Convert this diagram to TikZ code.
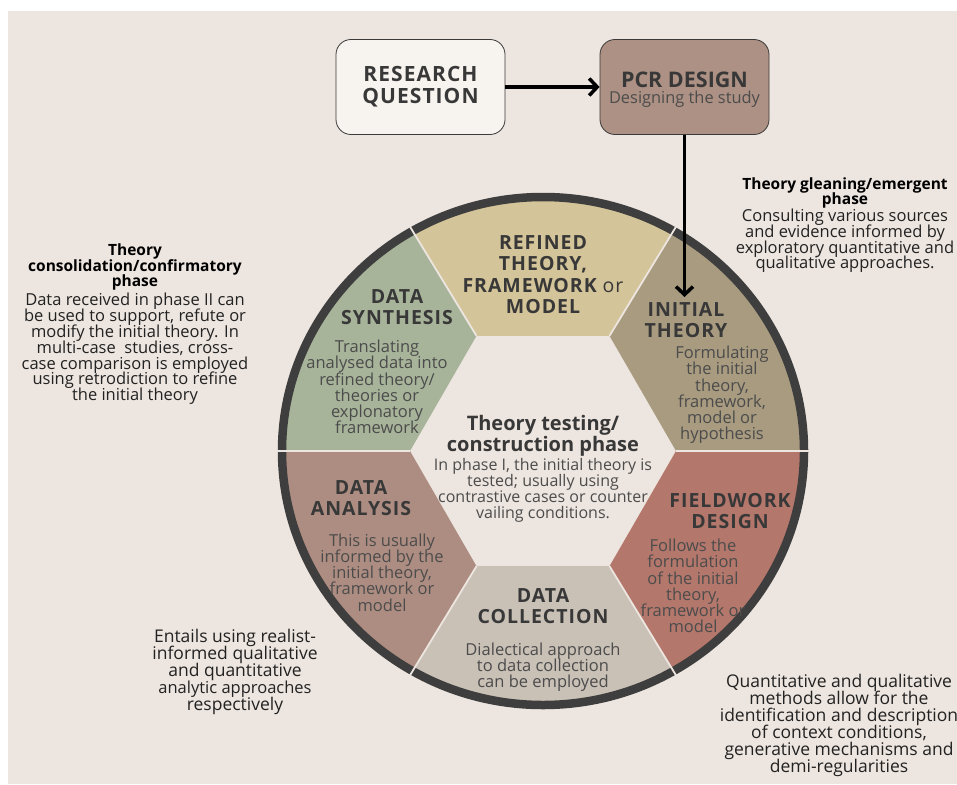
\documentclass[tikz,border=0pt]{standalone}
\usepackage{fontspec}
\setmainfont{Open Sans}
\newfontfamily\trackfont[LetterSpace=5]{Open Sans}
\usetikzlibrary{arrows.meta}
% keep multi-line labels on their set baseline distance
\lineskiplimit=-50pt
\lineskip=0pt

\definecolor{pagebg}{HTML}{EDE5DF}
\definecolor{rqfill}{HTML}{F7F3EF}
\definecolor{pcrfill}{HTML}{AD9184}
\definecolor{boxline}{HTML}{3A3A3A}
\definecolor{refcol}{HTML}{D4C499}
\definecolor{initcol}{HTML}{A89B80}
\definecolor{fieldcol}{HTML}{B4776B}
\definecolor{collcol}{HTML}{C9C0B6}
\definecolor{analcol}{HTML}{AD8D81}
\definecolor{synthcol}{HTML}{A7B49A}
\definecolor{ringcol}{HTML}{3E3E3E}
\definecolor{divcol}{HTML}{EDE5DF}
\definecolor{headcol}{HTML}{383838}
\definecolor{bodycol}{HTML}{4C4C4C}
\definecolor{outcol}{HTML}{222222}

\tikzset{
  rqbox/.style={draw=boxline, line width=0.8pt, fill=rqfill, rounded corners=15pt,
    minimum width=169pt, minimum height=95pt, align=center, text=headcol,
    font=\trackfont\bfseries\fontsize{21}{22}\selectfont},
  pcrbox/.style={draw=boxline, line width=0.8pt, fill=pcrfill, rounded corners=15pt,
    minimum width=169pt, minimum height=95pt},
  pcrtitle/.style={inner sep=0pt, text=headcol, font=\bfseries\fontsize{21.5}{22}\selectfont},
  pcrsub/.style={inner sep=0pt, text=bodycol, font=\fontsize{16.4}{17}\selectfont},
  flow/.style={line width=3.5pt, -{Straight Barb[length=8pt,width=17pt]}},
  seghead/.style={inner sep=0pt, align=center, text=headcol,
    font=\trackfont\bfseries\fontsize{19.5}{21.5}\selectfont},
  segbody/.style={inner sep=0pt, align=center, text=bodycol,
    font=\fontsize{16.5}{16.2}\selectfont},
  centhead/.style={inner sep=0pt, align=center, text=headcol,
    font=\bfseries\fontsize{20}{21}\selectfont},
  centbody/.style={inner sep=0pt, align=center, text=bodycol,
    font=\fontsize{16}{16}\selectfont},
  outhead/.style={inner sep=0pt, align=center, text=black,
    font=\bfseries\fontsize{15.5}{15.5}\selectfont},
  outbody/.style={inner sep=0pt, align=center, text=outcol,
    font=\fontsize{16.5}{15.8}\selectfont},
  outbig/.style={inner sep=0pt, align=center, text=outcol,
    font=\fontsize{17.5}{17}\selectfont},
  divider/.style={line width=1.8pt, divcol},
}

\begin{document}
\begin{tikzpicture}[x=1pt,y=-1pt]
\useasboundingbox (0,0) rectangle (957,784);
\fill[white] (0,0) rectangle (957,784);
\fill[pagebg] (8,11) rectangle (957,784);

% wheel: six segments between the inner hexagon and the outer ring
\begin{scope}[shift={(543,451)}]
  \foreach \a/\b/\col in {240/300/refcol, 300/360/initcol, 0/60/fieldcol,
                          60/120/collcol, 120/180/analcol, 180/240/synthcol}{
    \fill[\col] (\a:133) -- plot[domain=\a:\b, samples=40] ({261*cos(\x)},{254*sin(\x)})
      -- (\b:133) -- cycle;
  }
  \draw[line width=8.5pt, ringcol] (0,0) ellipse[x radius=261, y radius=254];
  \foreach \a in {0,60,...,300}
    \draw[divider] (\a:133) -- ({266*cos(\a)},{259*sin(\a)});
\end{scope}

% top row of boxes
\node[rqbox] (rq) at (420.5,87) {RESEARCH\\QUESTION};
\node[pcrbox] (pcr) at (684.5,87) {};
\node[pcrtitle] (pcrt) at (684.5,80) {PCR DESIGN};
\node[pcrsub] (pcrs) at (684.5,99.5) {Designing the study};
\coordinate (itin) at (684.5,297);
\draw[flow] (rq.east) -- (pcr.west);
\draw[flow] (pcr.south) -- (itin);

% segment labels
\node[seghead] (refh) at (543,274.5) {REFINED\\THEORY,\\FRAMEWORK {\mdseries or}\\MODEL};
\node[seghead] (synh) at (397,307) {DATA\\SYNTHESIS};
\node[segbody] (synb) at (377,387) {Translating\\analysed data into\\refined theory/\\theories or\\explonatory\\framework};
\node[seghead] (inith) at (686,320) {INITIAL\\THEORY};
\node[segbody] (initb) at (722,395) {Formulating\\the initial\\theory,\\framework,\\model or\\hypothesis};
\node[seghead] (fieldh) at (730,511) {FIELDWORK\\DESIGN};
\node[segbody] (fieldb) at (693,586) {Follows the\\formulation\\of the initial\\theory,\\framework or\\model};
\node[seghead] (collh) at (543,606) {DATA\\COLLECTION};
\node[segbody] (collb) at (543,667) {Dialectical approach\\to data collection\\can be employed};
\node[seghead] (analh) at (361,498) {DATA\\ANALYSIS};
\node[segbody] (analb) at (382,572.5) {This is usually\\informed by the\\initial theory,\\framework or\\model};

% centre of the wheel
\node[centhead] (cth) at (543,436) {Theory testing/\\construction phase};
\node[centbody] (ctb) at (543,490) {In phase I, the initial theory is\\tested; usually using\\contrastive cases or counter\\vailing conditions.};

% side notes
\node[outhead] (lefth) at (135,267) {Theory\\consolidation/confirmatory\\phase};
\node[outbody] (leftb) at (135,349) {Data received in phase II can\\be used to support, refute or\\modify the initial theory. In\\multi-case\ \ studies, cross-\\case comparison is employed\\using retrodiction to refine\\the initial theory};
\node[outhead] (righth) at (845,193) {Theory gleaning/emergent\\phase};
\node[outbody] (rightb) at (845,241) {Consulting various sources\\and evidence informed by\\exploratory quantitative and\\qualitative approaches.};
\node[outbig] (blnote) at (235,672) {Entails using realist-\\informed qualitative\\and quantitative\\{\fontsize{16.5}{17}\selectfont analytic approaches}\\respectively};
\node[outbig] (brnote) at (839,725) {Quantitative and qualitative\\methods allow for the\\identification and description\\of context conditions,\\generative mechanisms and\\demi-regularities};
\end{tikzpicture}
\end{document}
